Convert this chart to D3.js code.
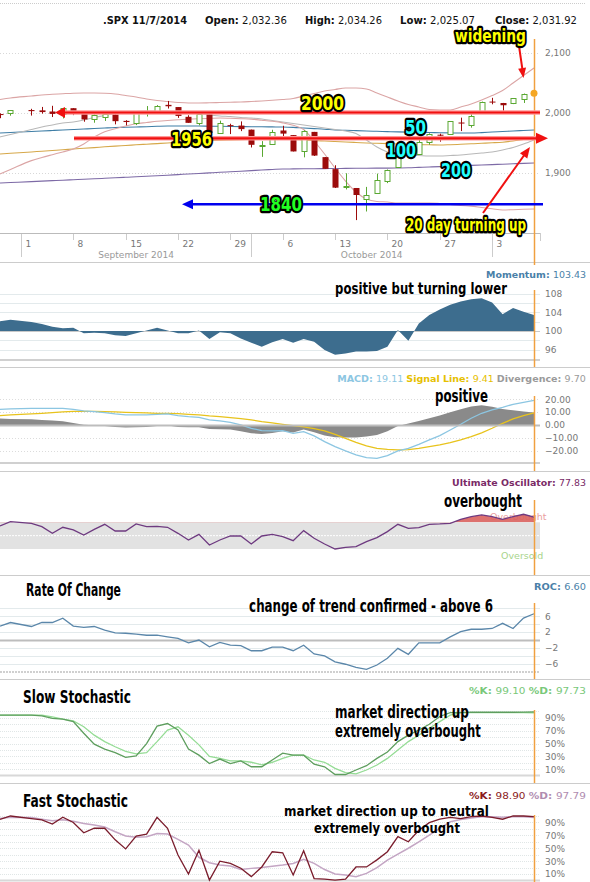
<!DOCTYPE html>
<html><head><meta charset="utf-8">
<script src="https://cdn.jsdelivr.net/npm/d3@7"></script>
<style>html,body{margin:0;padding:0;background:#fff;}svg{display:block;}</style>
</head><body><svg id="c" width="590" height="882"></svg>
<script>
// ---------------- DATA ----------------
const dates = ["2014-08-28","2014-08-29","2014-09-02","2014-09-03","2014-09-04","2014-09-05","2014-09-08","2014-09-09","2014-09-10","2014-09-11","2014-09-12","2014-09-15","2014-09-16","2014-09-17","2014-09-18","2014-09-19","2014-09-22","2014-09-23","2014-09-24","2014-09-25","2014-09-26","2014-09-29","2014-09-30","2014-10-01","2014-10-02","2014-10-03","2014-10-06","2014-10-07","2014-10-08","2014-10-09","2014-10-10","2014-10-13","2014-10-14","2014-10-15","2014-10-16","2014-10-17","2014-10-20","2014-10-21","2014-10-22","2014-10-23","2014-10-24","2014-10-27","2014-10-28","2014-10-29","2014-10-30","2014-10-31","2014-11-03","2014-11-04","2014-11-05","2014-11-06","2014-11-07"];
const opens = [1997.42,1998.45,2004.07,2003.57,2001.67,1998.00,2007.17,2000.73,1988.41,1992.85,1996.74,1986.04,1981.93,1999.30,2003.07,2012.74,2009.08,1992.78,1983.34,1997.32,1966.22,1978.96,1978.21,1971.44,1945.83,1948.12,1970.01,1962.36,1935.55,1967.68,1925.63,1905.65,1877.11,1874.18,1855.95,1864.91,1885.62,1909.38,1941.29,1931.02,1951.59,1962.97,1964.14,1983.29,1979.49,2001.20,2018.21,2015.81,2015.29,2023.33];
const highs = [1998.55,2003.38,2006.12,2009.28,2011.17,2007.71,2007.17,2001.01,1996.66,1997.65,1996.74,1987.18,2002.28,2010.74,2012.34,2019.26,2009.08,1995.41,1999.79,1997.32,1986.37,1981.28,1985.17,1971.44,1952.32,1971.19,1977.84,1962.36,1970.36,1967.68,1925.63,1912.09,1898.71,1874.18,1876.01,1898.16,1905.03,1942.45,1949.31,1961.95,1965.27,1964.64,1985.05,1991.40,1999.40,2018.19,2024.46,2015.98,2023.77,2031.61];
const lows = [1990.52,1994.65,1994.85,1998.14,1992.44,1990.10,1995.60,1984.61,1982.99,1985.93,1980.26,1978.48,1979.06,1993.29,2003.07,2006.59,1991.01,1982.77,1978.63,1965.99,1966.22,1964.04,1968.96,1941.72,1926.03,1948.12,1958.43,1935.10,1925.25,1927.56,1906.05,1874.14,1871.79,1820.66,1835.02,1864.91,1882.30,1909.38,1926.83,1931.02,1946.27,1951.37,1964.14,1969.04,1974.75,2001.20,2013.68,2001.01,2014.00,2015.86];
const closes = [1996.74,2003.37,2002.28,2000.72,1997.65,2007.71,2001.54,1988.44,1995.69,1997.45,1985.54,1984.13,1998.98,2001.57,2011.36,2010.40,1994.29,1982.77,1998.30,1965.99,1982.85,1977.80,1972.29,1946.16,1946.17,1967.90,1964.82,1935.10,1968.89,1928.21,1906.13,1874.74,1877.70,1862.49,1862.76,1886.76,1904.01,1941.28,1927.11,1950.82,1964.58,1961.63,1985.05,1982.30,1994.65,2018.05,2017.81,2012.10,2023.57,2031.21];
const lastClose = 2031.92;
const header = {symbol:".SPX 11/7/2014", open:"2,032.36", high:"2,034.26", low:"2,025.07", close:"2,031.92"};

const sma20 = [1959.2,1963.3,1971.7,1975.8,1979.2,1982.5,1984.2,1987.5,1991.7,1995.0,1998.3,2000.8,2001.7,2002.5,2002.5,2002.5,2001.7,2000.0,1998.3,1995.8,1994.2,1993.3,1991.7,1990.8,1989.2,1986.7,1984.2,1981.7,1979.2,1976.7,1974.2,1971.7,1969.2,1965.0,1954.2,1942.5,1934.2,1930.0,1929.2,1928.3,1927.5,1927.5,1928.3,1929.2,1930.8,1932.5,1934.2,1937.5,1941.7,1947.5,1954.2];
const sma50 = [1965.8,1966.7,1968.3,1969.2,1970.0,1970.8,1971.7,1972.5,1973.3,1974.2,1975.0,1975.3,1975.8,1976.3,1977.0,1977.5,1977.5,1977.5,1977.5,1977.2,1977.0,1976.7,1976.5,1976.3,1976.2,1976.0,1975.8,1975.2,1974.2,1973.2,1972.2,1970.8,1970.3,1969.8,1969.2,1968.7,1968.2,1967.7,1967.3,1967.0,1966.7,1966.3,1966.0,1965.8,1965.8,1966.5,1967.5,1968.3,1969.2,1970.0,1970.8];
const sma100 = [1930.8,1932.0,1934.2,1935.5,1936.7,1937.8,1939.2,1940.3,1941.5,1942.8,1944.0,1945.0,1946.2,1947.2,1948.2,1949.2,1950.3,1951.3,1952.3,1953.0,1953.7,1954.2,1954.7,1955.0,1955.3,1955.7,1955.8,1955.0,1954.2,1953.3,1952.5,1951.7,1950.8,1950.0,1949.2,1948.7,1948.2,1947.5,1947.0,1946.5,1946.2,1945.8,1946.3,1947.0,1947.8,1948.7,1949.5,1950.5,1952.5,1955.0,1957.5];
const sma200 = [1882.5,1883.3,1884.8,1885.7,1886.5,1887.2,1888.0,1888.8,1889.5,1890.3,1891.2,1892.0,1892.8,1893.7,1894.7,1895.5,1896.5,1897.5,1898.3,1899.3,1900.3,1901.2,1902.2,1903.2,1904.2,1905.0,1905.8,1906.0,1906.2,1906.3,1906.5,1906.7,1906.8,1907.0,1907.2,1907.3,1907.3,1907.5,1907.8,1908.5,1909.2,1909.8,1910.5,1911.2,1911.8,1912.5,1913.2,1913.8,1914.5,1915.2,1915.8];
const bbUpper = [2021.7,2024.2,2027.5,2029.2,2030.3,2031.3,2032.2,2032.5,2032.5,2032.0,2030.8,2028.3,2025.8,2022.5,2020.0,2018.3,2016.7,2015.8,2015.8,2016.2,2016.7,2017.2,2017.5,2018.3,2019.2,2020.3,2021.7,2023.3,2027.5,2031.7,2035.8,2038.3,2040.8,2040.8,2039.2,2032.5,2025.8,2019.2,2013.3,2009.2,2005.0,2004.2,2004.2,2009.2,2014.2,2020.8,2028.3,2036.7,2049.2,2061.7,2074.2];
const bbLower = [1897.5,1905.0,1919.8,1925.0,1929.7,1934.3,1939.2,1947.5,1959.2,1968.0,1973.0,1977.5,1981.3,1983.3,1985.3,1986.7,1987.8,1989.0,1989.7,1990.2,1990.8,1990.3,1989.7,1989.0,1987.2,1985.3,1982.7,1978.7,1971.7,1952.5,1930.8,1907.5,1885.8,1867.5,1855.8,1851.7,1850.8,1849.2,1849.2,1849.2,1849.2,1848.2,1846.7,1845.0,1844.0,1841.7,1839.5,1837.5,1838.0,1838.7,1839.2];

const momentum = [102.1,102.4,101.9,101.5,100.9,100.6,100.7,99.5,99.6,99.5,99.1,98.9,99.5,100.1,100.7,100.1,99.5,99.5,100.1,98.3,99.7,99.5,98.4,97.5,96.6,97.6,98.3,97.5,98.3,97.7,95.9,94.9,95.2,95.6,95.6,95.7,96.6,100.2,97.9,101.6,103.4,104.6,105.6,106.3,106.8,107.0,106.1,103.6,104.9,104.1,103.43];
const macd = [12.19,12.45,12.97,12.97,12.97,12.97,12.19,10.89,10.38,9.60,8.56,7.78,7.78,7.78,8.30,8.56,7.26,6.49,5.97,3.89,3.11,2.08,0,-2.59,-4.41,-4.67,-4.41,-6.49,-5.19,-8.56,-12.97,-16.86,-20.23,-23.35,-25.42,-25.94,-23.87,-20.23,-18.16,-15.05,-11.67,-8.30,-3.89,0.52,5.19,9.08,11.67,13.75,16.08,17.64,19.11];
const signal = [7.26,7.78,8.56,9.08,9.60,10.12,10.64,10.64,10.64,10.38,10.12,9.86,9.60,9.34,9.08,9.08,8.82,8.30,7.78,7.00,6.49,5.71,4.93,3.89,2.59,1.56,0.52,-0.52,-1.56,-2.85,-4.67,-7.26,-10.38,-13.49,-16.34,-18.16,-18.94,-19.46,-19.20,-18.16,-16.86,-15.56,-13.75,-11.67,-9.08,-6.23,-2.59,1.30,4.67,7.26,9.41];
const ultimate = [64.5,71,68.5,63.5,53.5,62.5,58.5,51,59.5,67,57,57,67.5,63.5,64,62.5,53.5,43.5,52,36,43.5,49.5,49.5,37.5,49.5,52,48.5,42.5,57.5,46,37.5,30,32.5,33.5,41,47,56,67,61,62,67,67.5,68.5,74.5,78.5,81,78.5,74.5,78.5,82,77.83];
const roc = [3.5,4.4,3.4,4.4,4.4,5.5,3.5,3.2,3.4,2.5,1.8,1.7,1.5,1.2,1.2,0.8,0.4,-0.7,0,-1.7,-0.6,-1.3,-1.4,-2.7,-2.7,-1.8,-1.8,-2.7,-1.3,-3.5,-4.0,-5.5,-6.1,-6.9,-7.4,-6.3,-4.6,-2.1,-3.6,-0.7,-0.7,-0.7,0.8,2.1,2.7,2.7,2.9,4.2,2.9,5.5,6.6];
const slowK = [94,94,94,93,89,88,84,66,49,41.5,36,28.6,31,50,77,81,71,41.5,32,19,26,19,23,14,14,24.5,35,32,32,18,14,2,2,9,15.7,27,37,53,63,71,80,92,98,98,98.5,98.5,98.5,98.5,98.5,98.8,99.1];
const slowD = [94,94,94,94,91.5,88,85,76,63,53,45,38,34,36,53,71,76,63,48,30,27,23,23,21,17,21,27,32,32,24.5,21,11.5,5,3,9,16.7,27,40,53,63,73.6,84,94,98,98,98,98,98,98,97.8,97.73];
const fastK = [94.8,100,96,94,87.5,98,90,74,81,81,63,49,69,72,98,81,39.5,10,47,0.7,30,26.5,19,6,21,44.6,43,8.5,46,3,2,0.7,2,21,21,32,44.6,68,60,78,89.6,95,98,96,99,100,98,95,100,100,98.9];
const fastD = [96,98,97.5,95,92.7,94,92,88.5,86,83,75.6,69,67,68,73,72,63.7,55,36,27.6,24,22.4,17,18.8,20,22,24,26.5,32.7,26.5,17,10,8.5,6,11,20,31.7,41,50,60,70.5,81,91,94.7,97,99,99,98,99,99,97.79];

const priceTicks = [1900, 2000, 2100];
const momTicks = [96, 100, 104, 108];
const macdTicks = [-20, -10, 0, 10, 20];
const rocTicks = [-6, -2, 2, 6];
const stochTicks = [10, 30, 50, 70, 90];
const dayTickLabels = ["1","8","15","22","29","6","13","20","27","3"];
const mondays = ["2014-09-01","2014-09-08","2014-09-15","2014-09-22","2014-09-29","2014-10-06","2014-10-13","2014-10-20","2014-10-27","2014-11-03"];
const monthStarts = ["2014-09-01","2014-10-01","2014-11-03"];
const monthLabels = ["September 2014","October 2014"];
const levels = {r2000:2000, r1956:1957, b1840:1847};

// ---------------- SETUP ----------------
const svg = d3.select("#c");
const parse = d3.timeParse("%Y-%m-%d");
const t0 = parse(dates[0]);
function slot(s){ const d = parse(s); return d3.timeDays(t0, d).filter(v => v.getDay()%6 !== 0).length; }
const slots = dates.map(slot);
const x = d3.scaleLinear().domain([0, 51]).range([0, 534]);
const XR = 534.5, AXL = 545;
const VER = "'DejaVu Sans', Verdana, sans-serif";
const CND = "'Liberation Sans Narrow','DejaVu Sans Condensed','Roboto Condensed','Arial Narrow',sans-serif";

svg.append("rect").attr("width",590).attr("height",882).attr("fill","#fff");
svg.append("line").attr("x1",0).attr("x2",585).attr("y1",3.5).attr("y2",3.5).attr("stroke","#ccc").attr("stroke-dasharray","1,1");

// fit a text element horizontally into [x1,x2] by scaling
function fitX(t, x1, x2, yb){
  const w0 = t.node().getComputedTextLength();
  t.attr("x",0).attr("y",0).attr("transform",`translate(${(x1+x2)/2},${yb}) scale(${(x2-x1)/w0},1)`);
}

// header
const hdr = [[header.symbol, null, 103, 84],["Open:", header.open, 205, 82],["High:", header.high, 305, 77],["Low:", header.low, 400, 75],["Close:", header.close, 495, 82]];
hdr.forEach(h=>{
  const t = svg.append("text").attr("text-anchor","middle").attr("font-family",VER).attr("font-size",10).attr("fill","#111");
  if(h[1]===null){ t.attr("font-weight","bold").text(h[0]); }
  else { t.append("tspan").attr("font-weight","bold").text(h[0]); t.append("tspan").text(" "+h[1]); }
  fitX(t, h[2], h[2]+h[3], 24);
});

function hgrid(y, vals, x2, color, dash, width){
  svg.append("g").selectAll("line").data(vals).join("line")
    .attr("x1",0).attr("x2",x2).attr("y1",d=>Math.round(y(d))+0.5).attr("y2",d=>Math.round(y(d))+0.5)
    .attr("stroke",color).attr("stroke-width",width||1).attr("stroke-dasharray",dash||null);
}
function rAxis(y, vals, fmt){
  const g = svg.append("g").attr("transform",`translate(${AXL},0)`)
    .call(d3.axisRight(y).tickValues(vals).tickSize(0).tickPadding(0).tickFormat(fmt));
  g.select(".domain").remove();
  g.selectAll("text").attr("font-family",VER).attr("font-size",9).attr("fill","#777");
  return g;
}
function orange(y1,y2){ svg.append("line").attr("x1",XR).attr("x2",XR).attr("y1",y1).attr("y2",y2).attr("stroke","#f0a040").attr("stroke-width",1.5); }
function sep(yy){ svg.append("line").attr("x1",0).attr("x2",590).attr("y1",yy).attr("y2",yy).attr("stroke","#ccc"); }
function headerR(parts, yb, xr, w){
  const t = svg.append("text").attr("text-anchor","middle").attr("font-family",VER).attr("font-size",9.5);
  parts.forEach(p=>t.append("tspan").attr("fill",p[1]).attr("font-weight",p[2]?"bold":"normal").text(p[0]));
  fitX(t, xr-w, xr, yb);
}
function note(txt, x1, x2, yb, fs){
  const t = svg.append("text").attr("text-anchor","middle").attr("font-family",CND).attr("font-weight","bold")
    .attr("font-size",fs).attr("fill","#000").text(txt);
  fitX(t, x1, x2, yb);
}
function outlined(txt, x1, x2, yb, fs, fill){
  svg.append("text").attr("x",(x1+x2)/2).attr("y",yb).attr("text-anchor","middle").attr("font-family",CND).attr("font-weight","bold")
    .attr("font-size",fs).attr("fill",fill).attr("stroke","#000").attr("stroke-width",4.5).attr("stroke-linejoin","round")
    .attr("paint-order","stroke").attr("textLength",x2-x1).attr("lengthAdjust","spacingAndGlyphs").text(txt);
}
function clip(id, y1, y2){
  svg.append("clipPath").attr("id",id).append("rect").attr("x",0).attr("y",y1).attr("width",XR).attr("height",y2-y1);
}

// ---------------- MAIN PRICE PANEL ----------------
const yP = d3.scaleLinear().domain([1800, 2100]).range([232.5, 52.5]);
hgrid(yP, priceTicks, 540, "#d8d8d8", "1,2");
rAxis(yP, priceTicks, d3.format(","));
clip("cm", 30, 233);
const gm = svg.append("g").attr("clip-path","url(#cm)");
const lineP = arr => d3.line().x((d,i)=>x(slots[i])).y(d=>yP(d)).curve(d3.curveMonotoneX)(arr);
[[sma200,"#7d6aa6"],[sma100,"#d6a84a"],[sma50,"#3f7ea6"],[sma20,"#b8b8b8"],[bbUpper,"#dba5a5"],[bbLower,"#dba5a5"]].forEach(s=>{
  gm.append("path").attr("d",lineP(s[0])).attr("fill","none").attr("stroke",s[1]).attr("stroke-width",1.1);
});
// candles
const cg = gm.append("g");
opens.forEach((o,i)=>{
  const c = closes[i], cx = Math.round(x(slots[i]))+0.5, up = c >= o;
  const col = up ? "#5aa832" : "#9c0b0b";
  cg.append("line").attr("x1",cx).attr("x2",cx).attr("y1",yP(highs[i])).attr("y2",yP(lows[i])).attr("stroke",col);
  const top = yP(Math.max(o,c)), h = Math.max(1, Math.abs(yP(o)-yP(c)));
  if(up) cg.append("rect").attr("x",cx-2.5).attr("y",Math.round(top)+0.5).attr("width",5).attr("height",Math.max(1,Math.round(h)))
          .attr("fill","#fff").attr("stroke",col);
  else cg.append("rect").attr("x",cx-3).attr("y",top).attr("width",6).attr("height",h).attr("fill",col);
});
// bottom date axis
svg.append("line").attr("x1",0).attr("x2",540).attr("y1",233.5).attr("y2",233.5).attr("stroke","#bbb");
svg.append("line").attr("x1",540.5).attr("x2",540.5).attr("y1",233).attr("y2",241).attr("stroke","#ccc");
mondays.forEach((m,i)=>{
  const tx = Math.round(x(slot(m)))+0.5;
  svg.append("line").attr("x1",tx).attr("x2",tx).attr("y1",234).attr("y2",240).attr("stroke","#ccc");
  svg.append("text").attr("x",tx+4).attr("y",246.5).attr("font-family",VER).attr("font-size",9).attr("fill","#777").text(dayTickLabels[i]);
});
monthStarts.forEach(m=>{
  const tx = Math.round(x(slot(m)))+0.5;
  svg.append("line").attr("x1",tx).attr("x2",tx).attr("y1",234).attr("y2",257).attr("stroke","#ccc");
});
monthLabels.forEach((lab,i)=>{
  const cx = (x(slot(monthStarts[i])) + x(slot(monthStarts[i+1])))/2;
  svg.append("text").attr("x",cx).attr("y",258).attr("text-anchor","middle").attr("font-family",VER).attr("font-size",9).attr("fill","#999").text(lab);
});
sep(262.5);
orange(39, 265);
// annotations
function arrowHead(tx, ty, fx, fy, len, half, col){
  const a = Math.atan2(ty-fy, tx-fx);
  const bx = tx - len*Math.cos(a), by = ty - len*Math.sin(a);
  const px = -Math.sin(a)*half, py = Math.cos(a)*half;
  svg.append("path").attr("d",`M${tx},${ty}L${bx+px},${by+py}L${bx-px},${by-py}Z`).attr("fill",col);
}
const y2000 = yP(levels.r2000), y1956 = yP(levels.r1956), y1840 = yP(levels.b1840);
svg.append("line").attr("x1",62).attr("x2",540).attr("y1",y2000).attr("y2",y2000).attr("stroke","#ff9a9a").attr("stroke-width",4.5);
svg.append("line").attr("x1",62).attr("x2",540).attr("y1",y2000).attr("y2",y2000).attr("stroke","#f01010").attr("stroke-width",2.2);
arrowHead(55, y2000, 70, y2000, 10, 5.5, "#f01010");
svg.append("line").attr("x1",74).attr("x2",540).attr("y1",y1956).attr("y2",y1956).attr("stroke","#ff9a9a").attr("stroke-width",4.5);
svg.append("line").attr("x1",74).attr("x2",540).attr("y1",y1956).attr("y2",y1956).attr("stroke","#f01010").attr("stroke-width",2.2);
arrowHead(548, y1956, 530, y1956, 12, 5.5, "#f01010");
svg.append("line").attr("x1",190).attr("x2",543).attr("y1",y1840).attr("y2",y1840).attr("stroke","#0000ee").attr("stroke-width",2.6);
arrowHead(182, y1840, 200, y1840, 11, 5, "#0000ee");
svg.append("line").attr("x1",519).attr("x2",522.5).attr("y1",46).attr("y2",70).attr("stroke","#f01010").attr("stroke-width",2);
arrowHead(523.5, 78, 519, 46, 10, 4, "#f01010");
svg.append("line").attr("x1",483).attr("x2",525).attr("y1",213).attr("y2",154).attr("stroke","#f01010").attr("stroke-width",2);
arrowHead(530, 147, 483, 213, 11, 4.5, "#f01010");
svg.append("circle").attr("cx",x(slots[50])).attr("cy",yP(lastClose)).attr("r",3.5).attr("fill","#f5a623");
outlined("widening", 455, 526, 42, 18, "#ffff00");
outlined("2000", 301, 344, 110, 20, "#ffff00");
outlined("1956", 171, 212, 146, 20, "#ffff00");
outlined("50", 405, 426, 134, 20, "#22ffff");
outlined("100", 386, 416, 157, 20, "#22ffff");
outlined("200", 441, 471, 177, 20, "#22ffff");
outlined("1840", 260, 302, 211, 20, "#22ff22");
outlined("20 day turning up", 406, 526, 231, 18, "#ffff00");

// ---------------- MOMENTUM ----------------
const yM = d3.scaleLinear().domain([94,108]).range([359,293.6]);
hgrid(yM, [96,98,102,104,106,108], 540, "#e3eaec");
hgrid(yM, [100], 540, "#c8c8c8", null, 1.2);
svg.append("line").attr("x1",0).attr("x2",540).attr("y1",360).attr("y2",360).attr("stroke","#d0d0d0").attr("stroke-width",2);
clip("cmo", 285, 362);
svg.append("path").attr("clip-path","url(#cmo)")
  .attr("d", d3.area().x((d,i)=>x(slots[i])).y0(yM(100)).y1(d=>yM(d))(momentum)).attr("fill","#3d6d8e");
rAxis(yM, momTicks, d3.format("d"));
headerR([["Momentum: ","#4a7fa8",true],["103.43","#4a7fa8",false]], 278, 586, 100);
note("positive but turning lower", 335, 507, 294, 16);
orange(290, 368);
sep(367.5);

// ---------------- MACD ----------------
const yD = d3.scaleLinear().domain([-30,20]).range([463.5,399.25]);
hgrid(yD, [-20,-10,10,20], 540, "#dcdcdc", "1,2");
clip("cmd", 385, 464);
const gd = svg.append("g").attr("clip-path","url(#cmd)");
const divergence = macd.map((m,i)=>m - signal[i]);
gd.append("path").attr("d", d3.area().x((d,i)=>x(slots[i])).y0(yD(0)).y1(d=>yD(d))(divergence)).attr("fill","#8a8a8a");
hgrid(yD, [0], 540, "#bdbdbd", null, 2);
svg.append("line").attr("x1",0).attr("x2",540).attr("y1",463).attr("y2",463).attr("stroke","#d0d0d0").attr("stroke-width",2);
gd.append("path").attr("d", d3.line().x((d,i)=>x(slots[i])).y(d=>yD(d))(signal)).attr("fill","none").attr("stroke","#e8c31c").attr("stroke-width",1.3);
gd.append("path").attr("d", d3.line().x((d,i)=>x(slots[i])).y(d=>yD(d))(macd)).attr("fill","none").attr("stroke","#8cc6e2").attr("stroke-width",1.3);
rAxis(yD, macdTicks, d3.format(".2f"));
headerR([["MACD: ","#8cc6e2",true],["19.11  ","#8cc6e2",false],["Signal Line: ","#e6c000",true],["9.41  ","#e6c000",false],["Divergence: ","#9a9a9a",true],["9.70","#9a9a9a",false]], 382, 586, 249);
note("positive", 435, 488, 402, 17);
orange(396, 472);
sep(471.5);

// ---------------- ULTIMATE OSCILLATOR ----------------
const yU = d3.scaleLinear().domain([30,70]).range([549,522.3]);
svg.append("rect").attr("x",0).attr("y",yU(70)).attr("width",540).attr("height",yU(30)-yU(70)).attr("fill","#e2e2e2");
svg.append("line").attr("x1",0).attr("x2",540).attr("y1",yU(50)).attr("y2",yU(50)).attr("stroke","#fff").attr("stroke-dasharray","2,1");
svg.append("text").attr("x",490).attr("y",520).attr("font-family",VER).attr("font-size",9.5).attr("fill","#eaa0a0").text("Overbought");
svg.append("text").attr("x",501).attr("y",559).attr("font-family",VER).attr("font-size",9.5).attr("fill","#a8d48c").text("Oversold");
svg.append("clipPath").attr("id","cob").append("rect").attr("x",0).attr("y",480).attr("width",XR).attr("height",yU(70)-480);
svg.append("clipPath").attr("id","cos").append("rect").attr("x",0).attr("y",yU(30)).attr("width",XR).attr("height",20);
const uX = (d,i)=>x(slots[i]);
svg.append("path").attr("clip-path","url(#cob)").attr("d", d3.area().x(uX).y0(yU(70)).y1(d=>yU(d))(ultimate)).attr("fill","#d9625e").attr("opacity",0.9);
svg.append("path").attr("clip-path","url(#cos)").attr("d", d3.area().x(uX).y0(yU(30)).y1(d=>yU(d))(ultimate)).attr("fill","#7cc05a");
svg.append("path").attr("d", d3.line().x(uX).y(d=>yU(d))(ultimate)).attr("fill","none").attr("stroke","#6e3a80").attr("stroke-width",1.3);
headerR([["Ultimate Oscillator: ","#7a2a66",true],["77.83","#7a2a66",false]], 486, 586, 134);
note("overbought", 444, 522, 507, 18);
orange(500, 575);
sep(575.5);

// ---------------- RATE OF CHANGE ----------------
const yR = d3.scaleLinear().domain([-8,8]).range([671.8,608.2]);
hgrid(yR, [-6,-4,-2,2,4,6,8], 540, "#e3eaec");
hgrid(yR, [0], 540, "#bdbdbd", null, 2);
svg.append("line").attr("x1",0).attr("x2",540).attr("y1",672).attr("y2",672).attr("stroke","#d0d0d0").attr("stroke-width",2).attr("stroke-dasharray","2,1");
svg.append("path").attr("d", d3.line().x((d,i)=>x(slots[i])).y(d=>yR(d))(roc)).attr("fill","none").attr("stroke","#5b87aa").attr("stroke-width",1.3);
rAxis(yR, rocTicks, d3.format("d"));
headerR([["ROC: ","#4a7fa8",true],["6.60","#4a7fa8",false]], 590, 586, 52);
note("Rate Of Change", 26, 121, 596, 17);
note("change of trend confirmed - above 6", 249, 493, 612, 17);
orange(603, 679);
sep(679.5);

// ---------------- SLOW STOCHASTIC ----------------
const yS = d3.scaleLinear().domain([0,100]).range([775.8,711.3]);
hgrid(yS, d3.range(10,101,10), 540, "#e0e6e6", "1,1");
svg.append("line").attr("x1",0).attr("x2",540).attr("y1",775.5).attr("y2",775.5).attr("stroke","#d8d8d8").attr("stroke-width",2);
svg.append("path").attr("d", d3.line().x((d,i)=>x(slots[i])).y(d=>yS(d))(slowD)).attr("fill","none").attr("stroke","#95dc95").attr("stroke-width",1.3);
svg.append("path").attr("d", d3.line().x((d,i)=>x(slots[i])).y(d=>yS(d))(slowK)).attr("fill","none").attr("stroke","#5e9e5e").attr("stroke-width",1.3);
rAxis(yS, stochTicks, d=>d+"%");
headerR([["%K: ","#79c879",true],["99.10  ","#79c879",false],["%D: ","#79c879",true],["97.73","#79c879",false]], 694, 586, 117);
note("Slow Stochastic", 23, 131, 703, 17);
note("market direction up", 335, 469, 718, 17);
note("extremely overbought", 335, 481, 737, 17);
orange(710, 783);
sep(783.5);

// ---------------- FAST STOCHASTIC ----------------
const yF = d3.scaleLinear().domain([0,100]).range([880.5,816]);
hgrid(yF, d3.range(10,101,10), 540, "#e0e6e6", "1,1");
svg.append("line").attr("x1",0).attr("x2",540).attr("y1",880.5).attr("y2",880.5).attr("stroke","#d8d8d8").attr("stroke-width",2);
svg.append("path").attr("d", d3.line().x((d,i)=>x(slots[i])).y(d=>yF(d))(fastD)).attr("fill","none").attr("stroke","#c4a6c4").attr("stroke-width",1.5);
svg.append("path").attr("d", d3.line().x((d,i)=>x(slots[i])).y(d=>yF(d))(fastK)).attr("fill","none").attr("stroke","#7a1c2c").attr("stroke-width",1.3);
rAxis(yF, stochTicks, d=>d+"%");
headerR([["%K: ","#8b1a1a",true],["98.90  ","#8b1a1a",false],["%D: ","#b08cb0",true],["97.79","#b08cb0",false]], 799, 586, 117);
note("Fast Stochastic", 23, 128, 807, 17);
note("market direction up to neutral", 284, 489, 815.5, 14.5);
note("extremely overbought", 314, 460, 833, 14.5);
orange(815, 882);
</script></body></html>
